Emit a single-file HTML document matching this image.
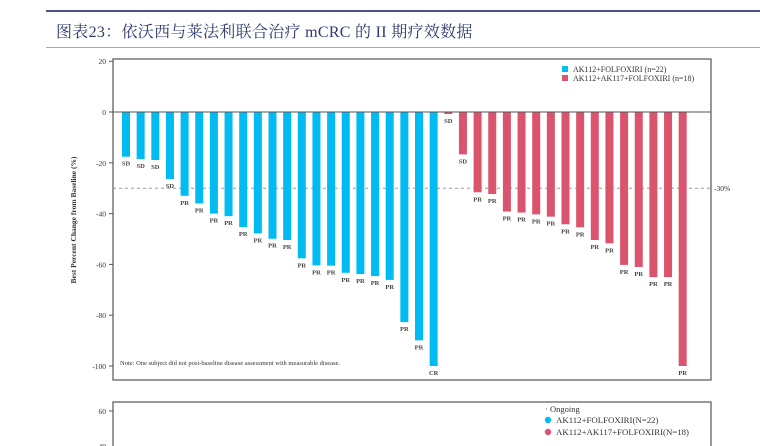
<!DOCTYPE html>
<html><head><meta charset="utf-8"><style>
body{margin:0;width:760px;height:446px;background:#fff;overflow:hidden;position:relative;font-family:"Liberation Serif",serif;}
#rule1{position:absolute;left:46px;top:10px;width:714px;height:2px;background:#4e5088;}
#title{position:absolute;left:56px;top:19px;font-family:"Liberation Serif","Noto Serif CJK SC",serif;font-size:16px;color:#2f3a70;letter-spacing:0.3px;}
#rule2{position:absolute;left:46px;top:47px;width:714px;height:1px;background:#a4a4cc;}
svg{position:absolute;left:0;top:0;}
</style></head><body>
<div id="rule1"></div>
<div id="title">图表23：依沃西与莱法利联合治疗 mCRC 的 II 期疗效数据</div>
<div id="rule2"></div>
<svg id="chart" width="760" height="446"></svg>
<script>
const blueVals=[-17.6,-18.5,-18.9,-26.4,-33,-36,-40,-41,-45.3,-47.8,-49.9,-50.4,-57.6,-60.4,-60.5,-63.3,-63.8,-64.6,-66.1,-82.7,-89.9,-100];
const blueLabels=["SD","SD","SD","SD","PR","PR","PR","PR","PR","PR","PR","PR","PR","PR","PR","PR","PR","PR","PR","PR","PR","CR"];
const redVals=[-0.8,-16.7,-31.6,-32.3,-39.2,-39.6,-40.3,-41.2,-44.2,-45.4,-50.4,-51.7,-60.2,-61,-65,-65,-100];
const redLabels=["SD","SD","PR","PR","PR","PR","PR","PR","PR","PR","PR","PR","PR","PR","PR","PR","PR"];
const yTicks=[20,0,-20,-40,-60,-80,-100];
const ns="http://www.w3.org/2000/svg";
const svg=document.getElementById('chart');
const y=v=>112-v*2.54;
const x=i=>126+i*14.65;
function mk(t,a,txt){const e=document.createElementNS(ns,t);for(const k in a)e.setAttribute(k,a[k]);if(txt!==undefined)e.textContent=txt;svg.appendChild(e);return e;}
let e;
e=mk('rect',{x:113,y:59,width:598,height:321,fill:'none',stroke:'#555','stroke-width':1.2});


yTicks.forEach(t=>{
 e=mk('line',{x1:109,x2:113,y1:y(t),y2:y(t),stroke:'#555'});
 
 
 e=mk('text',{x:106,y:y(t)+3,'text-anchor':'end','font-size':7.5,fill:'#333'},t);
 
 
});
e=mk('text',{x:76,y:220,'text-anchor':'middle','font-size':7.5,'font-weight':'bold',fill:'#333',transform:'rotate(-90 76 220)'},'Best Percent Change from Baseline (%)');


e=mk('line',{x1:113,x2:711,y1:y(-30),y2:y(-30),stroke:'#999','stroke-dasharray':'3,3'});


e=mk('text',{x:714,y:y(-30)+3,'font-size':7.5,fill:'#333'},'-30%');


function bars(vals,labs,off,col,nm){
 vals.forEach((v,i)=>{
  const cx=x(i+off);
  e=mk('rect',{x:cx-4,y:y(0),width:8,height:Math.max(y(v)-y(0),1),fill:col});
  
  
  e=mk('text',{x:cx,y:y(v)+9,'text-anchor':'middle','font-size':6.5,'font-weight':'bold',fill:'#444'},labs[i]);
  
  
 });
}
bars(blueVals,blueLabels,0,'#00bcf2','ak112');
bars(redVals,redLabels,blueVals.length,'#d9546c','ak112-ak117');
e=mk('line',{x1:113,x2:711,y1:y(0),y2:y(0),stroke:'#555','stroke-width':1});


e=mk('rect',{x:562,y:66,width:6,height:6,fill:'#00bcf2'});


e=mk('text',{x:573,y:72,'font-size':8,fill:'#333'},'AK112+FOLFOXIRI (n=22)');


e=mk('rect',{x:562,y:75,width:6,height:6,fill:'#d9546c'});


e=mk('text',{x:573,y:81,'font-size':8,fill:'#333'},'AK112+AK117+FOLFOXIRI (n=18)');


e=mk('text',{x:120,y:365,'font-size':6.5,fill:'#333'},'Note: One subject did not post-baseline disease assessment with measurable disease.');


e=mk('rect',{x:113,y:402,width:598,height:60,fill:'none',stroke:'#555','stroke-width':1.2});


e=mk('line',{x1:109,x2:113,y1:411,y2:411,stroke:'#555'});


e=mk('text',{x:106,y:414,'text-anchor':'end','font-size':7.5,fill:'#333'},'60');


e=mk('text',{x:106,y:449,'text-anchor':'end','font-size':7.5,fill:'#333'},'40');


e=mk('text',{x:545,y:412,'font-size':8.5,fill:'#333'},'·  Ongoing');


e=mk('circle',{cx:548,cy:420,r:3.2,fill:'#00bcf2'});


e=mk('text',{x:556,y:423,'font-size':8.8,fill:'#333'},'AK112+FOLFOXIRI(N=22)');


e=mk('circle',{cx:548,cy:432,r:3.2,fill:'#d9546c'});


e=mk('text',{x:556,y:435,'font-size':8.8,fill:'#333'},'AK112+AK117+FOLFOXIRI(N=18)');


</script>
</body></html>
